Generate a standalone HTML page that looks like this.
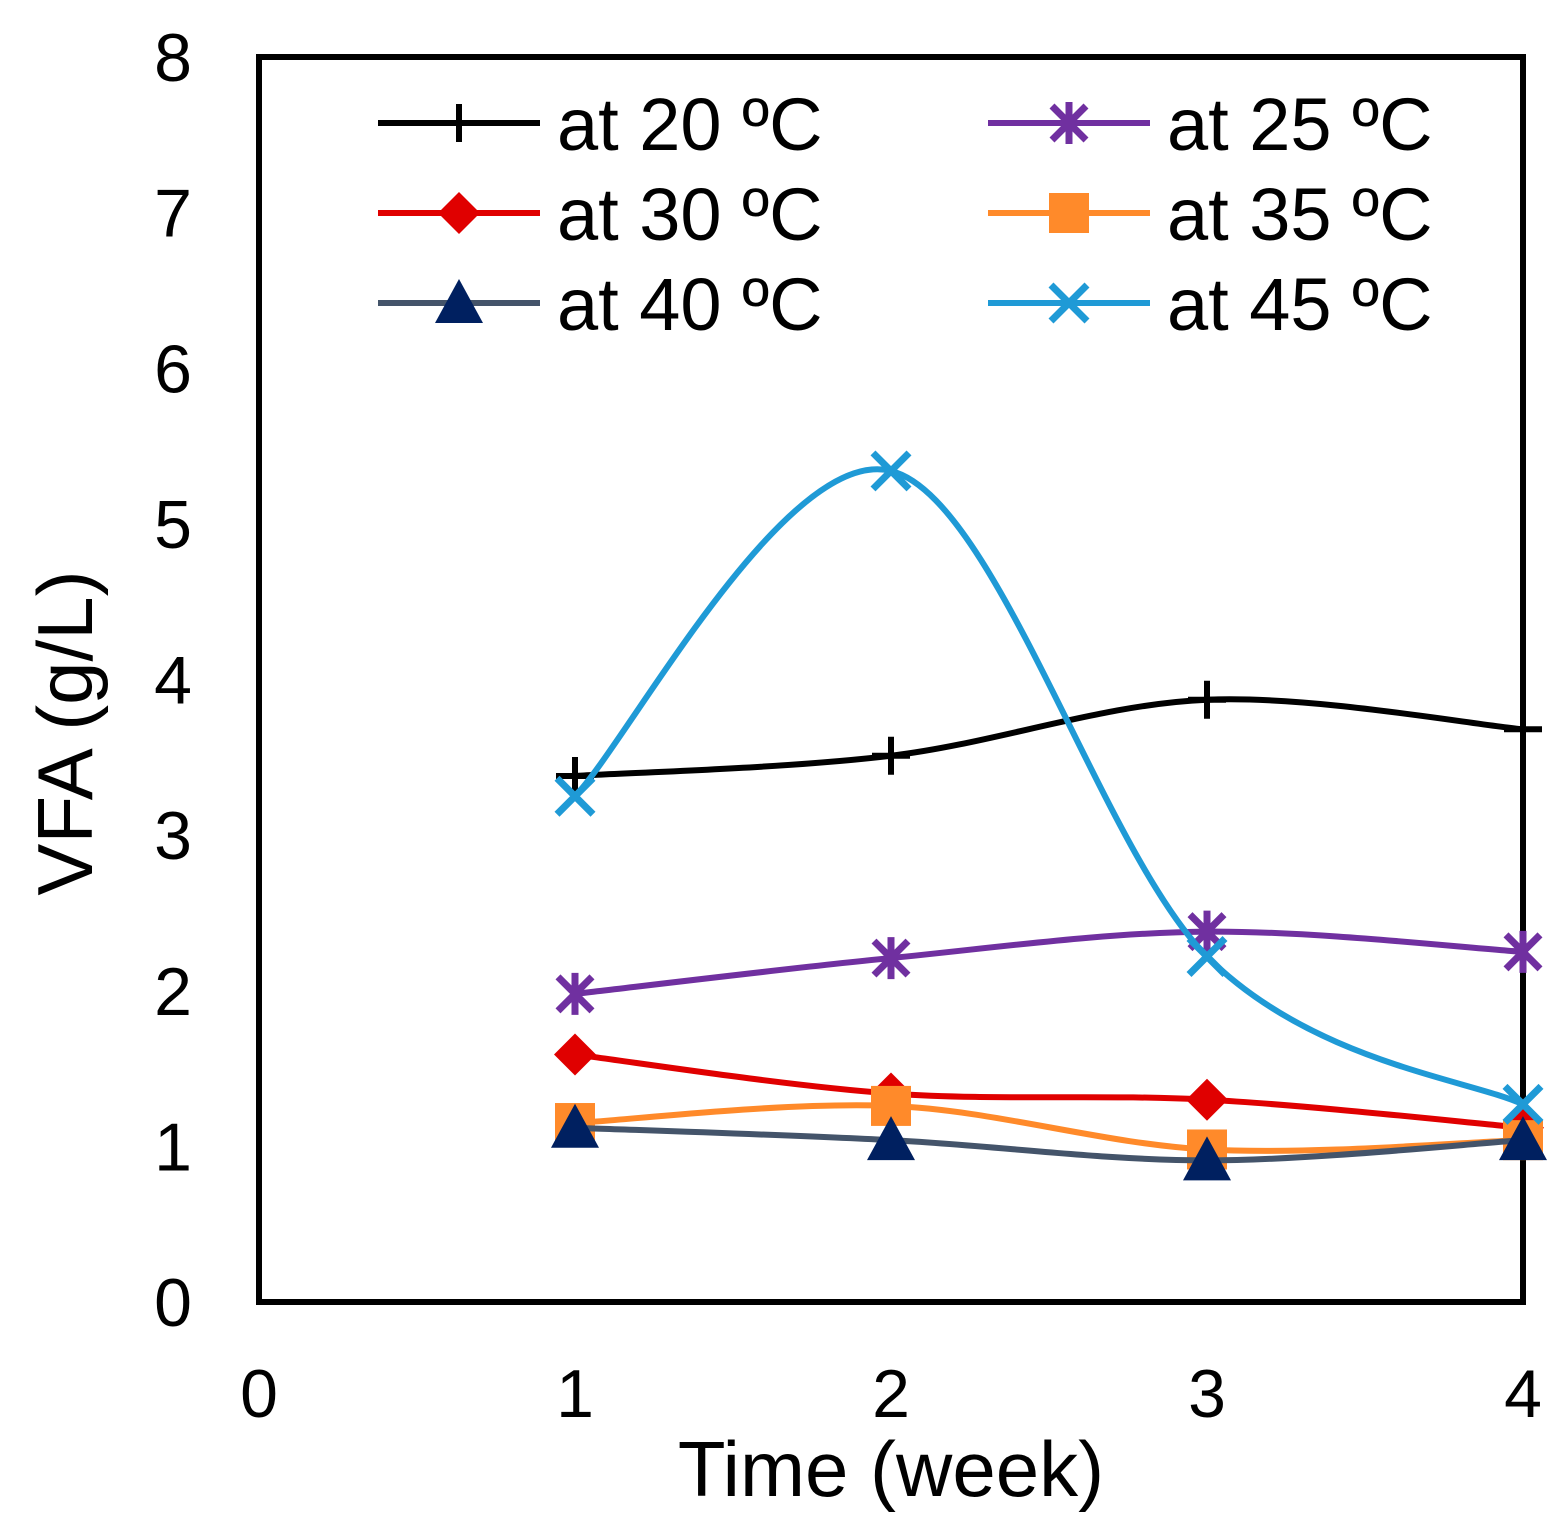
<!DOCTYPE html>
<html><head><meta charset="utf-8"><style>
html,body{margin:0;padding:0;background:#fff}
svg{display:block;font-family:"Liberation Sans",Arial,sans-serif}
</style></head><body>
<svg id="chart" width="1567" height="1528" viewBox="0 0 1567 1528">
<rect x="0" y="0" width="1567" height="1528" fill="#fff"/>
<g id="axes"></g>
<g id="series"></g>
<g id="legend"></g>
</svg>
<script>
const categories = [1, 2, 3, 4];
const seriesNames = ["at 20 ºC","at 25 ºC","at 30 ºC","at 35 ºC","at 40 ºC","at 45 ºC"];
const v20 = [3.38, 3.51, 3.87, 3.68];
const v25 = [1.98, 2.21, 2.38, 2.25];
const v30 = [1.59, 1.34, 1.30, 1.12];
const v35 = [1.15, 1.26, 0.98, 1.04];
const v40 = [1.12, 1.04, 0.91, 1.04];
const v45 = [3.25, 5.34, 2.22, 1.27];
const yTicks = [0,1,2,3,4,5,6,7,8];
const xTicks = [0,1,2,3,4];

const NS="http://www.w3.org/2000/svg";
const L=259,R=1523,T=57,B=1302;
function xs(v){return L+(v-0)/4*(R-L);}
function ys(v){return B-(v-0)/8*(B-T);}
function mk(tag,attrs,parent){const e=document.createElementNS(NS,tag);for(const k in attrs)e.setAttribute(k,attrs[k]);parent.appendChild(e);return e;}
const axes=document.getElementById('axes'),ser=document.getElementById('series'),leg=document.getElementById('legend');

yTicks.forEach(t=>{const e=mk('text',{x:192,y:ys(t)+24,'text-anchor':'end','font-size':68,fill:'#000'},axes);e.textContent=t;

});
xTicks.forEach(t=>{const e=mk('text',{x:xs(t),y:1417,'text-anchor':'middle','font-size':68,fill:'#000'},axes);e.textContent=t;

});
let xt=mk('text',{x:891,y:1496,'text-anchor':'middle','font-size':78,fill:'#000'},axes);xt.textContent='Time (week)';


let yt=mk('text',{x:0,y:0,transform:'translate(92,733) rotate(-90)','text-anchor':'middle','font-size':78,fill:'#000'},axes);yt.textContent='VFA (g/L)';



function path(vals){const p=categories.map((c,i)=>[xs(c),ys(vals[i])]);let d=`M${p[0][0]},${p[0][1]}`;
for(let i=0;i<p.length-1;i++){const p0=p[Math.max(i-1,0)],p1=p[i],p2=p[i+1],p3=p[Math.min(i+2,p.length-1)];const k=1/6;
d+=` C${p1[0]+(p2[0]-p0[0])*k},${p1[1]+(p2[1]-p0[1])*k} ${p2[0]-(p3[0]-p1[0])*k},${p2[1]-(p3[1]-p1[1])*k} ${p2[0]},${p2[1]}`;}return d;}
function marker(type,x,y,col,fill,g){
 if(type==='plus'){mk('path',{d:`M${x-19},${y}H${x+19}M${x},${y-19}V${y+19}`,stroke:col,'stroke-width':6},g);}
 else if(type==='star'){mk('path',{d:`M${x-17},${y-17}L${x+17},${y+17}M${x+17},${y-17}L${x-17},${y+17}M${x},${y-21}V${y+21}`,stroke:col,'stroke-width':7},g);}
 else if(type==='diamond'){mk('path',{d:`M${x},${y-21}L${x+21},${y}L${x},${y+21}L${x-21},${y}Z`,fill:fill},g);}
 else if(type==='square'){mk('rect',{x:x-20,y:y-20,width:40,height:40,fill:fill},g);}
 else if(type==='tri'){mk('path',{d:`M${x},${y-24}L${x+24},${y+20}L${x-24},${y+20}Z`,fill:fill},g);}
 else if(type==='x'){mk('path',{d:`M${x-18},${y-18}L${x+18},${y+18}M${x+18},${y-18}L${x-18},${y+18}`,stroke:col,'stroke-width':7},g);}
}
const defs=[[v20,'#000','#000','plus'],[v25,'#7030a0','#7030a0','star'],[v30,'#e00000','#e00000','diamond'],[v35,'#ff8a2a','#ff8a2a','square'],[v40,'#44546a','#002060','tri'],[v45,'#1f9ad6','#1f9ad6','x']];
defs.forEach((s,si)=>{const g=mk('g',{},ser);


mk('path',{d:path(s[0]),fill:'none',stroke:s[1],'stroke-width':6},g);
categories.forEach((c,i)=>marker(s[3],xs(c),ys(s[0][i]),s[1],s[2],g));});

defs.forEach((s,si)=>{const col=si%2,row=Math.floor(si/2);const x0=col?988:378,y=123+row*90;
const g=mk('g',{},leg);


mk('line',{x1:x0,y1:y,x2:x0+162,y2:y,stroke:s[1],'stroke-width':6},g);
marker(s[3],x0+81,y,s[1],s[2],g);
const t=mk('text',{x:x0+179,y:y+27,'font-size':74,fill:'#000'},g);t.textContent=seriesNames[si];});

const fr=mk('rect',{x:L,y:T,width:R-L,height:B-T,fill:'none',stroke:'#000','stroke-width':6},axes);


</script>
</body></html>
